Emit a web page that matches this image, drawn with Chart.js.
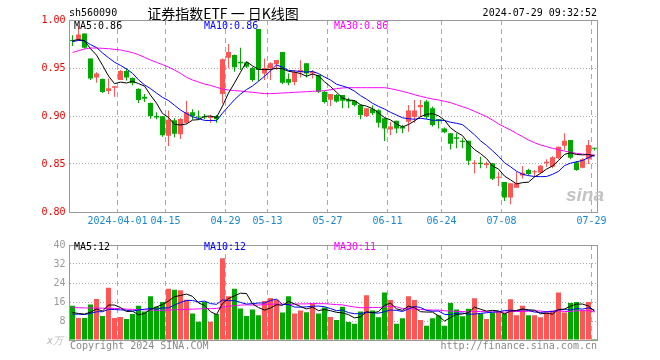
<!DOCTYPE html>
<html>
<head>
<meta charset="utf-8">
<script src="https://cdn.jsdelivr.net/npm/chart.js@4.4.1/dist/chart.umd.min.js"></script>
<style>
html,body{margin:0;padding:0;background:#fff;}
#wrap{position:relative;width:660px;height:360px;overflow:hidden;background:#fff;}
canvas{position:absolute;left:0;}
.t{position:absolute;white-space:nowrap;font-family:"DejaVu Sans Mono",monospace;font-size:10px;line-height:12px;}
</style>
</head>
<body>
<div id="wrap">
<canvas id="k" width="660" height="235" style="top:0;width:660px;height:235px"></canvas>
<canvas id="v" width="660" height="125" style="top:235px;width:660px;height:125px"></canvas>
<div class="t" style="left:69px;top:7px;color:#000">sh560090</div>
<div class="t" style="left:123px;width:200px;text-align:center;top:4px;font-family:'Noto Sans CJK SC',sans-serif;font-size:14px;line-height:18px;color:#000">证券指数ETF 一 日K线图</div>
<div class="t" style="right:63px;top:7px;color:#000">2024-07-29 09:32:52</div>
<div class="t" id="kma5" style="left:74px;top:20px;color:#000"></div>
<div class="t" id="kma10" style="left:204px;top:20px;color:#0000ff"></div>
<div class="t" id="kma30" style="left:334px;top:20px;color:#ff00ff"></div>
<div class="t" id="vma5" style="left:74px;top:241px;color:#000"></div>
<div class="t" id="vma10" style="left:204px;top:241px;color:#0000ff"></div>
<div class="t" id="vma30" style="left:334px;top:241px;color:#ff00ff"></div>
<div class="t" style="right:597px;top:335px;color:#bbb;font-style:italic">x万</div>
<div class="t" style="left:70px;top:340px;color:#888">Copyright 2024 SINA.COM</div>
<div class="t" style="right:63px;top:340px;color:#888">http://finance.sina.com.cn</div>
<div class="t" style="left:566px;top:184px;color:#c4c4c4;font-family:'Liberation Sans',sans-serif;font-size:19px;line-height:22px;font-weight:bold;font-style:italic">sina</div>
</div>
<script>
// ---------------- data ----------------
const dates = [
 '2024-03-20','2024-03-21','2024-03-22','2024-03-25','2024-03-26','2024-03-27','2024-03-28','2024-03-29',
 '2024-04-01','2024-04-02','2024-04-03','2024-04-08','2024-04-09','2024-04-10','2024-04-11','2024-04-12',
 '2024-04-15','2024-04-16','2024-04-17','2024-04-18','2024-04-19','2024-04-22','2024-04-23','2024-04-24','2024-04-25','2024-04-26',
 '2024-04-29','2024-04-30','2024-05-06','2024-05-07','2024-05-08','2024-05-09','2024-05-10',
 '2024-05-13','2024-05-14','2024-05-15','2024-05-16','2024-05-17','2024-05-20','2024-05-21','2024-05-22','2024-05-23','2024-05-24',
 '2024-05-27','2024-05-28','2024-05-29','2024-05-30','2024-05-31','2024-06-03','2024-06-04','2024-06-05','2024-06-06','2024-06-07',
 '2024-06-11','2024-06-12','2024-06-13','2024-06-14','2024-06-17','2024-06-18','2024-06-19','2024-06-20','2024-06-21',
 '2024-06-24','2024-06-25','2024-06-26','2024-06-27','2024-06-28','2024-07-01','2024-07-02','2024-07-03','2024-07-04','2024-07-05',
 '2024-07-08','2024-07-09','2024-07-10','2024-07-11','2024-07-12','2024-07-15','2024-07-16','2024-07-17','2024-07-18','2024-07-19',
 '2024-07-22','2024-07-23','2024-07-24','2024-07-25','2024-07-26','2024-07-29'
];
const tickDates  = ['2024-04-01','2024-04-15','2024-04-29','2024-05-13','2024-05-27','2024-06-11','2024-06-24','2024-07-08','2024-07-29'];
const tickLabels = ['2024-04-01','04-15','04-29','05-13','05-27','06-11','06-24','07-08','07-29'];

const opens = [
 0.979,0.980,0.986,0.960,0.940,0.9385,0.926,0.9295,0.9375,0.947,
 0.9396,0.928,0.920,0.9135,0.900,0.8997,0.8795,0.8955,0.881,0.893,
 0.904,0.899,0.899,0.898,0.900,0.923,0.9608,0.9635,0.9566,0.9556,
 0.950,0.9906,0.9444,0.9497,0.9538,0.9667,0.9385,0.9354,0.9455,0.955,
 0.9444,0.9427,0.9253,0.917,0.922,0.922,0.9167,0.916,0.9115,0.900,
 0.9076,0.906,0.8976,0.886,0.895,0.8889,0.894,0.899,0.909,0.915,
 0.908,0.8965,0.887,0.882,0.8778,0.8743,0.8743,0.850,0.8514,0.849,
 0.8507,0.8358,0.8313,0.815,0.8253,0.838,0.8437,0.8413,0.841,0.8507,
 0.8472,0.856,0.869,0.875,0.8517,0.846,0.855,0.867
];
const highs = [
 0.984,0.994,0.986,0.960,0.9455,0.939,0.939,0.931,0.948,0.9497,
 0.940,0.929,0.923,0.914,0.904,0.900,0.9056,0.8976,0.898,0.916,
 0.907,0.9056,0.902,0.901,0.901,0.960,0.975,0.964,0.971,0.956,
 0.951,0.9906,0.960,0.956,0.9583,0.9667,0.9444,0.948,0.958,0.955,
 0.948,0.943,0.926,0.923,0.923,0.922,0.919,0.9167,0.912,0.908,
 0.911,0.907,0.898,0.894,0.895,0.8906,0.9115,0.9167,0.9167,0.9167,
 0.910,0.897,0.888,0.882,0.882,0.8767,0.8743,0.854,0.8576,0.8524,
 0.851,0.842,0.8313,0.830,0.842,0.848,0.845,0.8437,0.849,0.855,
 0.858,0.868,0.882,0.875,0.853,0.856,0.875,0.867
];
const lows = [
 0.973,0.978,0.970,0.9375,0.9347,0.924,0.923,0.920,0.9375,0.937,
 0.932,0.9135,0.9146,0.8972,0.8965,0.8785,0.8688,0.8778,0.876,0.892,
 0.896,0.896,0.8965,0.893,0.893,0.913,0.9497,0.946,0.948,0.950,
 0.9358,0.9365,0.9375,0.9375,0.948,0.933,0.932,0.932,0.940,0.940,
 0.939,0.924,0.913,0.9104,0.914,0.908,0.908,0.910,0.8965,0.899,
 0.901,0.888,0.874,0.880,0.882,0.882,0.8837,0.893,0.899,0.897,
 0.889,0.887,0.882,0.865,0.8663,0.8663,0.849,0.840,0.8455,0.8455,
 0.8333,0.827,0.8115,0.808,0.825,0.835,0.838,0.837,0.840,0.847,
 0.8455,0.855,0.8646,0.855,0.843,0.8455,0.850,0.864
];
const closes = [
 0.978,0.985,0.971,0.939,0.9444,0.925,0.929,0.931,0.947,0.940,
 0.934,0.9167,0.918,0.900,0.8985,0.880,0.896,0.8816,0.897,0.904,
 0.900,0.8985,0.8985,0.899,0.8965,0.959,0.9667,0.9507,0.955,0.9514,
 0.9375,0.948,0.950,0.955,0.9583,0.9347,0.9347,0.9455,0.948,0.9444,
 0.946,0.9253,0.9146,0.923,0.915,0.916,0.915,0.9115,0.901,0.908,
 0.9028,0.893,0.887,0.889,0.887,0.887,0.9056,0.9056,0.9115,0.899,
 0.8906,0.8945,0.883,0.871,0.8764,0.8729,0.8535,0.8514,0.850,0.8507,
 0.8347,0.8368,0.815,0.830,0.830,0.841,0.8396,0.842,0.8483,0.8524,
 0.857,0.868,0.8743,0.8566,0.8437,0.855,0.8698,0.866
];
// closes of the 9 sessions before the first shown day (estimated from where the MA lines start)
const prevCloses = [0.972,0.976,0.978,0.975,0.981,0.979,0.977,0.981,0.9775];
// 30-day average of the close
const priceMa30 = [
 0.9660,0.9681,0.9698,0.9708,0.9708,0.9705,0.9701,0.9694,0.9688,0.9674,
 0.9660,0.9639,0.9611,0.9583,0.9559,0.9535,0.9510,0.9479,0.9444,0.9403,
 0.9375,0.9354,0.9333,0.9319,0.9299,0.9281,0.9271,0.9264,0.9260,0.9253,
 0.9247,0.9240,0.9233,0.9233,0.9236,0.9240,0.9243,0.9247,0.9250,0.9253,
 0.9257,0.9260,0.9264,0.9274,0.9285,0.9292,0.9295,0.9295,0.9295,0.9295,
 0.9295,0.9295,0.9295,0.9285,0.9271,0.9257,0.9240,0.9222,0.9205,0.9191,
 0.9177,0.9167,0.9153,0.9139,0.9118,0.9097,0.9076,0.9049,0.9021,0.8993,
 0.8958,0.8917,0.8885,0.8854,0.8819,0.8785,0.8750,0.8722,0.8698,0.8681,
 0.8663,0.8649,0.8635,0.8622,0.8611,0.8604,0.8597,0.8594
];
// volume, 万手
const volumes = [
 14.4,9.3,9.3,14.9,17.3,10.1,22,9.3,9.7,8.8,
 10.9,14.4,12,18.4,14,16,21.6,21.2,20.9,17,
 11.2,7.7,16,7.7,10.9,34.4,18.4,21.6,13.3,10.1,
 12.8,10.4,16.4,17.7,17,11.6,18.4,11.2,12.4,11.7,
 15.3,11.2,13.7,9.7,8.4,14,7.6,6.8,12,18.8,
 12.4,9.6,20,16.8,6.8,9.2,18.4,16.8,8.4,6,
 9.2,10.4,6,15.6,12.8,10,13.2,17.6,11.2,8.8,
 11.6,12,11.2,17.2,10.4,14.4,10.4,10.4,9.6,11.6,
 12.4,20,11.6,15.6,16,12.4,16,0.4
];
const prevVolumes = [9.5,11,10,10.5,10,11.5,10.5,11,10.6];
const volMa30 = [
 13.6,13.6,13.5,13.5,13.4,13.4,13.3,13.3,13.2,13.0,
 12.9,12.8,12.7,12.6,12.5,12.5,12.6,12.7,12.8,12.9,
 13.0,13.1,13.2,13.2,13.3,13.8,14.2,14.5,14.7,14.8,
 14.7,14.7,15.0,15.1,15.1,15.1,15.0,15.1,15.2,15.2,
 15.4,15.3,15.3,15.1,14.9,14.8,14.3,13.9,13.6,13.6,
 13.7,13.7,13.9,14.2,14.0,13.2,13.2,13.0,12.9,12.7,
 12.6,12.6,12.3,12.2,12.0,12.0,11.8,12.0,12.0,11.9,
 11.8,11.8,11.7,12.0,12.0,12.0,12.1,12.3,12.2,11.9,
 11.9,12.3,12.0,12.0,12.3,12.4,12.3,11.8
];

// ---------------- helpers ----------------
const RED = '#ff5555', GREEN = '#00a800';
const MONO = "'DejaVu Sans Mono', monospace";
function movingAvg(vals, prev, n) {
  const all = prev.concat(vals);
  return vals.map((_, i) => {
    const end = prev.length + i + 1;
    const s = all.slice(Math.max(0, end - n), end);
    return s.reduce((a, b) => a + b, 0) / s.length;
  });
}
const up = closes.map((c, i) => c >= opens[i]);
const candleColors = up.map(u => u ? RED : GREEN);
const tickIdx = tickDates.map(d => dates.indexOf(d));
const ma5 = movingAvg(closes, prevCloses, 5);
const ma10 = movingAvg(closes, prevCloses, 10);
const vma5 = movingAvg(volumes, prevVolumes, 5);
const vma10 = movingAvg(volumes, prevVolumes, 10);

const last = a => a[a.length - 1];
document.getElementById('kma5').textContent = 'MA5:' + last(ma5).toFixed(2);
document.getElementById('kma10').textContent = 'MA10:' + last(ma10).toFixed(2);
document.getElementById('kma30').textContent = 'MA30:' + last(priceMa30).toFixed(2);
document.getElementById('vma5').textContent = 'MA5:' + Math.floor(last(vma5));
document.getElementById('vma10').textContent = 'MA10:' + Math.floor(last(vma10));
document.getElementById('vma30').textContent = 'MA30:' + Math.floor(last(volMa30));

const framePlugin = {
  id: 'frame',
  afterDraw(chart) {
    const {ctx, chartArea: a} = chart;
    const l = Math.floor(a.left) + 0.5, t = Math.floor(a.top) + 0.5;
    const r = Math.floor(a.right) + 0.5, b = Math.floor(a.bottom) + 0.5;
    ctx.save();
    ctx.strokeStyle = '#999';
    ctx.lineWidth = 1;
    ctx.strokeRect(l, t, r - l, b - t);
    ctx.restore();
  }
};

function xScale(showLabels, h) {
  return {
    type: 'category',
    offset: true,
    grid: {
      offset: true, drawTicks: false, lineWidth: 1,
      color: c => (c.index !== undefined && tickIdx.includes(c.index)) ? '#aaa' : 'rgba(0,0,0,0)'
    },
    border: { display: false, dash: [5, 4] },
    ticks: {
      display: showLabels, autoSkip: false, maxRotation: 0, minRotation: 0,
      padding: 3, labelOffset: -3, color: '#1a88d0',
      font: { family: MONO, size: 10 },
      callback: (v, i) => { const k = tickIdx.indexOf(i); return k >= 0 ? tickLabels[k] : ''; }
    },
    afterFit: s => { s.height = h; }
  };
}
const lineDs = (data, color) => ({
  type: 'line', data, borderColor: color, borderWidth: 1, pointRadius: 0,
  tension: 0, fill: false, order: 0
});

// ---------------- price chart ----------------
new Chart(document.getElementById('k'), {
  type: 'bar',
  data: {
    labels: dates,
    datasets: [
      lineDs(ma5, '#000000'),
      lineDs(ma10, '#0000ff'),
      lineDs(priceMa30, '#ff00ff'),
      { data: opens.map((o, i) => [o, closes[i]]), backgroundColor: candleColors,
        barThickness: 5, minBarLength: 1, grouped: false, borderWidth: 0, inflateAmount: 0, order: 1 },
      { data: lows.map((l, i) => [l, highs[i]]), backgroundColor: candleColors,
        barThickness: 1, minBarLength: 1, grouped: false, borderWidth: 0, inflateAmount: 0, order: 2 }
    ]
  },
  options: {
    responsive: false, animation: false, devicePixelRatio: 1,
    layout: { padding: { top: 20, right: 62.5, left: 0, bottom: 0 } },
    plugins: { legend: { display: false }, tooltip: { enabled: false } },
    scales: {
      x: xScale(true, 23),
      y: {
        min: 0.8, max: 1.0,
        ticks: { stepSize: 0.05, padding: 4, color: '#ee0000', font: { family: MONO, size: 10 },
                 callback: v => Number(v).toFixed(2) },
        grid: { drawTicks: false, lineWidth: 1,
                color: c => (c.tick && c.tick.value > 0.801 && c.tick.value < 0.999) ? '#aaa' : 'rgba(0,0,0,0)' },
        border: { display: false, dash: [1, 2] },
        afterFit: s => { s.width = 69.5; }
      }
    }
  },
  plugins: [framePlugin]
});

// ---------------- volume chart ----------------
new Chart(document.getElementById('v'), {
  type: 'bar',
  data: {
    labels: dates,
    datasets: [
      lineDs(vma5, '#000000'),
      lineDs(vma10, '#0000ff'),
      lineDs(volMa30, '#ff00ff'),
      { data: volumes, backgroundColor: candleColors, barThickness: 5, grouped: false,
        borderWidth: 0, inflateAmount: 0, order: 1 }
    ]
  },
  options: {
    responsive: false, animation: false, devicePixelRatio: 1,
    layout: { padding: { top: 5, right: 62.5, left: 0, bottom: 0 } },
    plugins: { legend: { display: false }, tooltip: { enabled: false } },
    scales: {
      x: xScale(false, 20),
      y: {
        min: 0, max: 40,
        ticks: { stepSize: 8, padding: 4, color: '#999', font: { family: MONO, size: 10 },
                 callback: v => v === 0 ? '' : String(v) },
        grid: { drawTicks: false, lineWidth: 1,
                color: c => (c.tick && c.tick.value > 0 && c.tick.value < 40) ? '#aaa' : 'rgba(0,0,0,0)' },
        border: { display: false, dash: [1, 2] },
        afterFit: s => { s.width = 69.5; }
      }
    }
  },
  plugins: [framePlugin]
});
</script>
</body>
</html>
